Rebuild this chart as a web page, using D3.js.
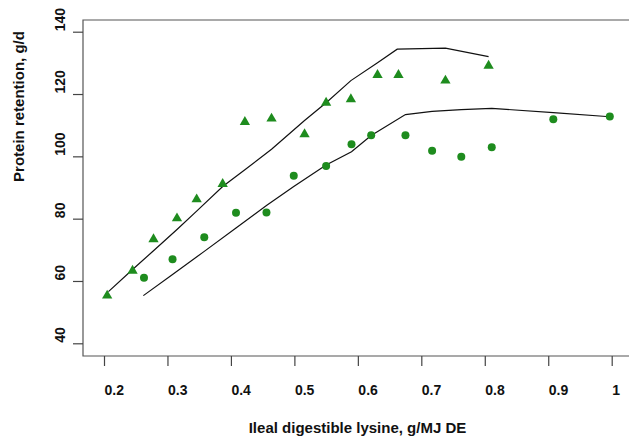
<!DOCTYPE html>
<html>
<head>
<meta charset="utf-8">
<script src="https://cdn.jsdelivr.net/npm/d3@7"></script>
<style>
	body { margin: 0; background: #fff; }
	text { font-family: "Liberation Sans", Arial, sans-serif; font-weight: bold; fill: #111; }
</style>
</head>
<body>
<svg id="chart" width="629" height="441"></svg>
<script>
// observed points, triangles (upper group) and circles (lower group)
let triX = [0.205, 0.245, 0.278, 0.315, 0.346, 0.387, 0.422, 0.464, 0.516, 0.550, 0.589, 0.631, 0.664, 0.738, 0.806];
let triY = [55.3, 63.3, 73.4, 80.1, 86.2, 91.1, 111.0, 112.1, 107.1, 117.2, 118.3, 126.1, 126.1, 124.3, 129.1];
let cirX = [0.263, 0.308, 0.358, 0.408, 0.456, 0.499, 0.550, 0.590, 0.621, 0.675, 0.717, 0.763, 0.811, 0.908, 0.997];
let cirY = [61.0, 67.0, 74.0, 81.9, 82.0, 93.8, 96.9, 103.9, 106.8, 106.8, 101.8, 99.9, 102.9, 111.9, 112.8];

// fitted curves
let upperX = [0.207, 0.245, 0.278, 0.315, 0.346, 0.387, 0.422, 0.464, 0.516, 0.550, 0.589, 0.631, 0.662, 0.738, 0.806];
let upperY = [56.6, 63.7, 69.7, 76.5, 82.4, 90.3, 95.7, 102.3, 111.5, 117.2, 124.3, 130.0, 134.4, 134.7, 132.0];
let lowerX = [0.262, 0.308, 0.358, 0.408, 0.456, 0.499, 0.550, 0.590, 0.621, 0.675, 0.717, 0.763, 0.811, 0.908, 0.997];
let lowerY = [55.3, 62.1, 69.5, 77.0, 84.2, 90.3, 97.2, 101.5, 106.7, 113.4, 114.4, 115.0, 115.4, 114.0, 112.7];

let xTicks = [0.2, 0.3, 0.4, 0.5, 0.6, 0.7, 0.8, 0.9, 1];
let yTicks = [40, 60, 80, 100, 120, 140];

let svg = d3.select("#chart");
let green = "#1e8c1e";

let x = d3.scaleLinear().domain([0.2, 1.0]).range([104, 611.7]);
let y = d3.scaleLinear().domain([40, 140]).range([343.3, 31.7]);

let boxLeft = 83, boxTop = 20, boxBottom = 356, boxRight = 629;

// frame (left, top, bottom; right side is cut off)
svg.append("path")
	.attr("d", `M${boxRight},${boxTop}H${boxLeft}V${boxBottom}H${boxRight}`)
	.attr("fill", "none")
	.attr("stroke", "#555")
	.attr("stroke-width", 1.2);

// x axis
let xAxis = svg.append("g")
	.attr("transform", `translate(0,${boxBottom})`)
	.call(d3.axisBottom(x).tickValues(xTicks).tickSize(10).tickFormat(d3.format("")));
xAxis.select(".domain").remove();
xAxis.selectAll(".tick line").attr("stroke", "#444").attr("stroke-width", 1.2);
xAxis.selectAll(".tick text")
	.attr("y", 39).attr("dy", 0).attr("x", 0)
	.attr("text-anchor", "start")
	.attr("font-size", 14)
	.attr("fill", "#111");

// y axis
let yAxis = svg.append("g")
	.attr("transform", `translate(${boxLeft},0)`)
	.call(d3.axisLeft(y).tickValues(yTicks).tickSize(10));
yAxis.select(".domain").remove();
yAxis.selectAll(".tick line").attr("stroke", "#444").attr("stroke-width", 1.2);
yAxis.selectAll(".tick text")
	.attr("x", null).attr("dy", null)
	.attr("transform", "translate(-18.5,-1) rotate(-90)")
	.attr("text-anchor", "start")
	.attr("font-size", 14)
	.attr("fill", "#111");

// titles
svg.append("text")
	.attr("x", 357.5).attr("y", 433)
	.attr("text-anchor", "middle")
	.attr("font-size", 15)
	.text("Ileal digestible lysine, g/MJ DE");
svg.append("text")
	.attr("transform", "translate(24,106.5) rotate(-90)")
	.attr("text-anchor", "middle")
	.attr("font-size", 15)
	.text("Protein retention, g/d");

// curves
let line = d3.line().x(d => x(d[0])).y(d => y(d[1]));
svg.append("path")
	.datum(d3.zip(upperX, upperY))
	.attr("d", line)
	.attr("fill", "none").attr("stroke", "#111").attr("stroke-width", 1.2);
svg.append("path")
	.datum(d3.zip(lowerX, lowerY))
	.attr("d", line)
	.attr("fill", "none").attr("stroke", "#111").attr("stroke-width", 1.2);

// points
svg.selectAll(".tri")
	.data(d3.zip(triX, triY))
	.join("path")
	.attr("class", "tri")
	.attr("transform", d => `translate(${x(d[0])},${y(d[1])})`)
	.attr("d", d3.symbol().type(d3.symbolTriangle).size(46))
	.attr("fill", green);
svg.selectAll(".cir")
	.data(d3.zip(cirX, cirY))
	.join("circle")
	.attr("class", "cir")
	.attr("cx", d => x(d[0]))
	.attr("cy", d => y(d[1]))
	.attr("r", 4)
	.attr("fill", green);
</script>
</body>
</html>
